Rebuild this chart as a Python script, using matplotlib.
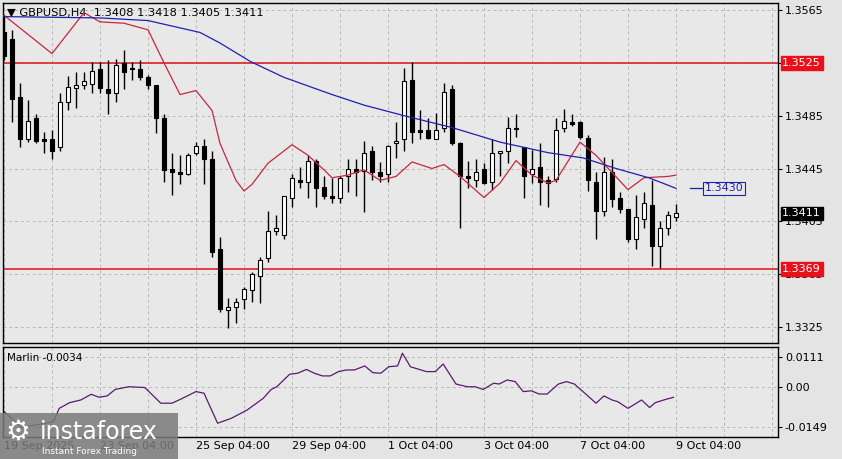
import matplotlib
matplotlib.use("Agg")
import matplotlib.pyplot as plt
from matplotlib.patches import Rectangle

opens = [1.3548,1.3543,1.3499,1.3467,1.3483,1.3467,1.3467,1.3461,1.3495,1.3506,1.3508,1.3509,1.3520,1.3505,1.3502,1.3525,1.3521,1.3520,1.3514,1.3508,
         1.3483,1.3445,1.3442,1.3441,1.3457,1.3462,1.3452,1.3384,1.3338,1.3340,1.3346,1.3353,1.3364,1.3377,1.3398,1.3395,1.3423,1.3436,1.3435,1.3451,
         1.3431,1.3424,1.3423,1.3439,1.3445,1.3443,1.3458,1.3442,1.3441,1.3464,1.3467,1.3512,1.3474,1.3474,1.3467,1.3476,1.3505,1.3464,1.3439,1.3436,
         1.3445,1.3435,1.3457,1.3458,1.3476,1.3461,1.3441,1.3446,1.3436,1.3437,1.3476,1.3480,1.3480,1.3468,1.3435,1.3413,1.3442,1.3423,1.3414,1.3392,
         1.3407,1.3417,1.3386,1.3400,1.3408]
highs = [1.3561,1.3550,1.3510,1.3497,1.3486,1.3473,1.3474,1.3502,1.3515,1.3518,1.3518,1.3526,1.3526,1.3527,1.3528,1.3535,1.3526,1.3527,1.3516,1.3508,
         1.3486,1.3457,1.3455,1.3457,1.3465,1.3467,1.3458,1.3393,1.3347,1.3347,1.3355,1.3367,1.3378,1.3413,1.3410,1.3424,1.3441,1.3446,1.3455,1.3452,
         1.3439,1.3438,1.3439,1.3452,1.3452,1.3466,1.3462,1.3450,1.3463,1.3480,1.3521,1.3526,1.3489,1.3483,1.3487,1.3510,1.3508,1.3465,1.3451,1.3452,
         1.3449,1.3467,1.3458,1.3484,1.3486,1.3461,1.3459,1.3464,1.3439,1.3483,1.3490,1.3486,1.3481,1.3470,1.3442,1.3454,1.3452,1.3427,1.3414,1.3425,
         1.3427,1.3436,1.3405,1.3413,1.3418]
lows = [1.3527,1.3480,1.3461,1.3465,1.3464,1.3457,1.3452,1.3458,1.3489,1.3491,1.3505,1.3502,1.3502,1.3486,1.3495,1.3505,1.3512,1.3512,1.3505,1.3472,
        1.3435,1.3425,1.3433,1.3440,1.3455,1.3433,1.3378,1.3336,1.3324,1.3328,1.3339,1.3344,1.3343,1.3374,1.3395,1.3392,1.3416,1.3430,1.3423,1.3416,
        1.3422,1.3419,1.3419,1.3427,1.3424,1.3412,1.3436,1.3435,1.3435,1.3453,1.3458,1.3464,1.3467,1.3467,1.3467,1.3473,1.3463,1.3400,1.3430,1.3431,
        1.3433,1.3429,1.3439,1.3449,1.3469,1.3423,1.3434,1.3417,1.3416,1.3435,1.3473,1.3477,1.3467,1.3428,1.3392,1.3409,1.3416,1.3411,1.3389,1.3384,
        1.3400,1.3371,1.3370,1.3395,1.3405]
closes = [1.3530,1.3498,1.3467,1.3481,1.3466,1.3466,1.3458,1.3495,1.3507,1.3508,1.3511,1.3519,1.3506,1.3502,1.3523,1.3518,1.3520,1.3514,1.3508,1.3483,
          1.3444,1.3442,1.3441,1.3455,1.3462,1.3452,1.3382,1.3339,1.3340,1.3344,1.3354,1.3365,1.3376,1.3398,1.3400,1.3424,1.3438,1.3435,1.3451,1.3430,
          1.3424,1.3423,1.3438,1.3445,1.3442,1.3457,1.3442,1.3439,1.3462,1.3466,1.3511,1.3473,1.3473,1.3468,1.3474,1.3503,1.3464,1.3439,1.3438,1.3442,
          1.3434,1.3457,1.3458,1.3476,1.3475,1.3439,1.3445,1.3435,1.3434,1.3474,1.3481,1.3479,1.3469,1.3436,1.3413,1.3442,1.3422,1.3414,1.3392,1.3408,
          1.3419,1.3386,1.3400,1.3410,1.3411]

red_x = [0,6,10,12,15,18,20,22,24,26,27,29,30,31,33,36,38,40,41,43,45,47,49,51,53.5,55,57,60,62,64,66,68,69,72,74,76,78,80,83,84]
red_y = [1.3561,1.3532,1.3563,1.3556,1.3555,1.3550,1.3525,1.3501,1.3504,1.3489,1.3464,1.3436,1.3428,1.3433,1.3449,1.3463,1.3455,1.3444,1.3438,1.3440,
         1.3444,1.3436,1.3439,1.3450,1.3445,1.3448,1.3439,1.3423,1.3434,1.3451,1.3440,1.3434,1.3436,1.3465,1.3455,1.3442,1.3429,1.3438,1.3439,1.3440]
blue_x = [0,12,18,24.5,27,30.8,35,41,45,50,56,62,68,72.4,76.5,80.6,84]
blue_y = [1.3560,1.3559,1.3557,1.3548,1.3540,1.3526,1.3514,1.3501,1.3493,1.3485,1.3476,1.3465,1.3457,1.3453,1.3445,1.3438,1.3430]

marlin_x = [-0.2,2.2,6.2,6.9,8.2,9.6,10.9,11.9,12.9,13.9,15.6,17.6,19.6,21,22.3,24,25,26.7,28.4,30.4,32.4,33.4,34.1,35.7,36.7,37.8,38.8,39.8,40.8,41.8,
            42.8,43.8,45.1,46.1,47.1,48.1,49.2,49.8,50.8,52.8,53.9,54.9,56.5,57.9,58.9,59.9,61.2,61.9,62.9,63.9,64.9,65.9,66.9,67.9,69.3,70.3,71.3,72.6,74,75,
            76,76.7,78,79.7,80.7,81.4,82.7,83.7]
marlin_y = [-0.0085,-0.0150,-0.0128,-0.0079,-0.0058,-0.0048,-0.0027,-0.0038,-0.0033,-0.0009,0.0001,-0.0002,-0.0060,-0.0060,-0.0042,-0.0017,-0.0023,-0.0134,-0.0116,-0.0085,
            -0.0042,-0.0009,0.0001,0.0047,0.0051,0.0065,0.0051,0.0041,0.0041,0.0057,0.0063,0.0063,0.0078,0.0053,0.0051,0.0075,0.0078,0.0125,0.0075,0.0057,
            0.0057,0.0085,0.0011,0.0001,0.0001,-0.0009,0.0014,0.0011,0.0026,0.0020,-0.0017,-0.0014,-0.0026,-0.0026,0.0011,0.0020,0.0011,-0.0023,-0.0060,-0.0033,
            -0.0048,-0.0054,-0.0079,-0.0048,-0.0076,-0.0058,-0.0046,-0.0038]

price_ticks = [1.3565,1.3525,1.3485,1.3445,1.3405,1.3365,1.3325]
price_tick_labels = ["1.3565","","1.3485","1.3445","1.3405","1.3365","1.3325"]
marlin_ticks = [0.0111,0.0,-0.0149]
marlin_tick_labels = ["0.0111","0.00","-0.0149"]
date_pos = [0,12,24,36,48,60,72,84]
date_labels = ["19 Sep 2025","23 Sep 04:00","25 Sep 04:00","29 Sep 04:00","1 Oct 04:00","3 Oct 04:00","7 Oct 04:00","9 Oct 04:00"]
levels = [1.3525,1.3369]

W, H = 842, 459
fig = plt.figure(figsize=(W/100, H/100), dpi=100, facecolor="#e4e4e4")
bg = "#e8e8e8"
ax = fig.add_axes([3/W, 1-343/H, 775/W, 340/H], facecolor=bg)
ax2 = fig.add_axes([3/W, 1-437/H, 775/W, 90/H], facecolor=bg)

XL = (-0.125, 96.75)
for a in (ax, ax2):
    a.set_xlim(*XL)
    for s in a.spines.values():
        s.set_color("black"); s.set_linewidth(1)
    a.yaxis.tick_right()
    a.tick_params(axis="y", direction="out", length=3, labelsize=8, pad=2, colors="black")
    a.set_xticks([i for i in range(0, 97, 6)])
    a.grid(True, color="#b8b8b8", linestyle=(0, (3, 3)), linewidth=0.7)
    a.set_axisbelow(True)

ax.set_ylim(1.33129, 1.35703)
ax.set_yticks(price_ticks)
ax.set_yticklabels(price_tick_labels)
ax.tick_params(axis="x", length=0, labelbottom=False)

w = 0.62
for i, (o, h, l, c) in enumerate(zip(opens, highs, lows, closes)):
    ax.vlines(i, l, h, color="black", linewidth=1, zorder=3)
    lo, hi = min(o, c), max(o, c)
    hgt = max(hi - lo, 0.00002)
    ax.add_patch(Rectangle((i - w/2, lo), w, hgt, facecolor="white" if c >= o else "black",
                           edgecolor="black", linewidth=0.8, zorder=4))

ax.plot(red_x, red_y, color="#c8283a", linewidth=0.9, zorder=5)
ax.plot(blue_x, blue_y, color="#2020b0", linewidth=0.9, zorder=5)
for lv in levels:
    ax.axhline(lv, color="#e0202a", linewidth=1.2, zorder=2)

ax.text(0.005, 0.985, "\u25bc GBPUSD,H4  1.3408 1.3418 1.3405 1.3411", transform=ax.transAxes,
        fontsize=8.2, va="top", ha="left")

def tag(y, txt, fc, tc):
    ax.annotate(txt, xy=(1.0, y), xycoords=("axes fraction", "data"), xytext=(3, 0), textcoords="offset points",
                fontsize=8, color=tc, va="center", ha="left",
                bbox=dict(boxstyle="square,pad=0.15", fc=fc, ec=fc), annotation_clip=False)
tag(1.3525, "1.3525", "#e8101a", "white")
tag(1.3369, "1.3369", "#e8101a", "white")
tag(1.3411, "1.3411", "black", "white")

ax.plot([85.8, 87.4], [1.3430, 1.3430], color="#2020b0", linewidth=0.9)
ax.text(87.6, 1.3430, "1.3430", fontsize=8, color="#2020b0", va="center", ha="left",
        bbox=dict(boxstyle="square,pad=0.15", fc=bg, ec="#2020b0", lw=0.8))

ax2.set_ylim(-0.0185, 0.0148)
ax2.set_yticks(marlin_ticks)
ax2.set_yticklabels(marlin_tick_labels)
ax2.plot(marlin_x, marlin_y, color="#5a1a6e", linewidth=0.9)
ax2.text(0.005, 0.93, "Marlin -0.0034", transform=ax2.transAxes, fontsize=7.5, va="top", ha="left")
ax2.tick_params(axis="x", length=0, labelbottom=False)
for p, lab in zip(date_pos, date_labels):
    fig.text((4 + 8*p)/W, 1-446/H, lab, fontsize=8, ha="left", va="center")

# watermark
fig.patches.append(Rectangle((0, 0), 178/W, 46/H, transform=fig.transFigure,
                             facecolor="#7a7a7a", alpha=0.85, zorder=10))
fig.text(40/W, 1-432/H, "instaforex", color="white", fontsize=17, ha="left", va="center", zorder=11)
fig.text(42/W, 1-451/H, "Instant Forex Trading", color="white", fontsize=6.5, ha="left", va="center", zorder=11)
fig.text(18/W, 1-432/H, "\u2699", color="white", fontsize=20, ha="center", va="center", zorder=11)

fig.savefig("out.png", dpi=100, facecolor=fig.get_facecolor())
